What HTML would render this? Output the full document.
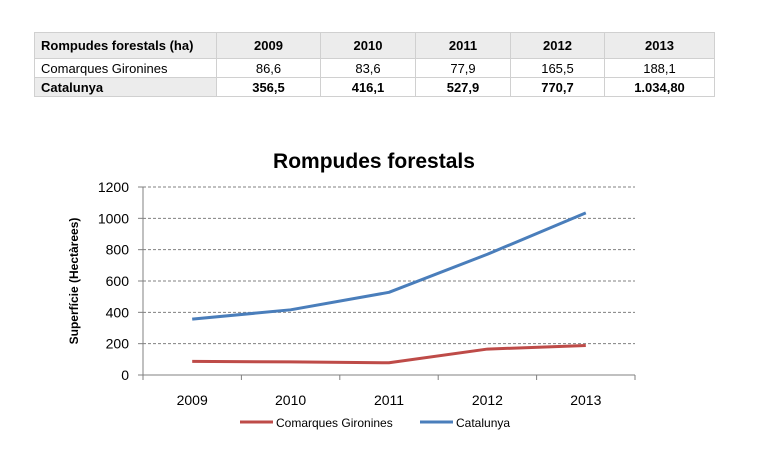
<!DOCTYPE html>
<html><head><meta charset="utf-8">
<style>
body{margin:0;background:#fff;width:771px;height:467px;overflow:hidden;font-family:"Liberation Sans",Arial,sans-serif;}
table{position:absolute;left:34px;top:32px;border-collapse:collapse;font-size:13px;}
td{border:1px solid #d0d0d0;padding:0;text-align:center;color:#000;}
tr.h td{height:25px;font-weight:bold;background:#ececec;}
tr.r td{height:18px;}
tr.b td{font-weight:bold;}
td.f{text-align:left;padding-left:6px;background:#ececec;}
</style></head><body>
<table>
<tr class="h"><td class="f" style="width:175px">Rompudes forestals (ha)</td><td style="width:103px">2009</td><td style="width:94px">2010</td><td style="width:94px">2011</td><td style="width:93px">2012</td><td style="width:109px">2013</td></tr>
<tr class="r"><td class="f" style="background:#fff">Comarques Gironines</td><td>86,6</td><td>83,6</td><td>77,9</td><td>165,5</td><td>188,1</td></tr>
<tr class="r b"><td class="f">Catalunya</td><td>356,5</td><td>416,1</td><td>527,9</td><td>770,7</td><td>1.034,80</td></tr>
</table>
<svg id="chart" width="771" height="467" style="position:absolute;left:0;top:0"></svg>
<script>
const categories=["2009","2010","2011","2012","2013"];
const gironines=[86.6,83.6,77.9,165.5,188.1];
const catalunya=[356.5,416.1,527.9,770.7,1034.8];
const yTicks=[0,200,400,600,800,1000,1200];
const NS="http://www.w3.org/2000/svg";
const svg=document.getElementById('chart');
const X0=143,X1=635,Y0=375,Y1=187,YMAX=1200;
const bw=(X1-X0)/categories.length;
const xs=i=>X0+bw*(i+0.5);
const ys=v=>Y0-(v/YMAX)*(Y0-Y1);
function mk(tag,attrs,txt){const e=document.createElementNS(NS,tag);for(const k in attrs)e.setAttribute(k,attrs[k]);if(txt!==undefined)e.textContent=txt;svg.appendChild(e);return e;}
let t=mk('text',{x:374,y:168,'font-size':21,'font-weight':'bold','text-anchor':'middle'},'Rompudes forestals');


t=mk('text',{transform:'translate(78,281) rotate(-90)','font-size':12,'font-weight':'bold','text-anchor':'middle'},'Superfície (Hectàrees)');


yTicks.forEach(v=>{
  const y=ys(v);
  if(v>0){const g=mk('line',{x1:X0,x2:X1,y1:y,y2:y,stroke:'#808080','stroke-dasharray':'3,2','stroke-width':1});
  
  }
  const tk=mk('line',{x1:X0-5,x2:X0,y1:y,y2:y,stroke:'#808080'});
  
  
  const l=mk('text',{x:X0-14,y:y+5,'font-size':14,'text-anchor':'end'},String(v));
  
  
});
let a=mk('line',{x1:X0,x2:X0,y1:Y1,y2:Y0,stroke:'#808080'});


a=mk('line',{x1:X0,x2:X1,y1:Y0,y2:Y0,stroke:'#808080'});


for(let i=0;i<=categories.length;i++){
  const x=X0+bw*i;
  const tk=mk('line',{x1:x,x2:x,y1:Y0,y2:Y0+5,stroke:'#808080'});
  
  
}
categories.forEach((c,i)=>{
  const l=mk('text',{x:xs(i),y:Y0+30,'font-size':14,'text-anchor':'middle'},c);
  
  
});
function series(vals,color,name){
  const p=mk('polyline',{points:vals.map((v,i)=>xs(i)+','+ys(v)).join(' '),fill:'none',stroke:color,'stroke-width':3,'stroke-linejoin':'round'});
  
  
}
series(gironines,'#be4b48','series-comarques-gironines');
series(catalunya,'#4a7ebb','series-catalunya');
let lg=mk('line',{x1:240,x2:273,y1:422,y2:422,stroke:'#be4b48','stroke-width':3});


lg=mk('text',{x:276,y:427,'font-size':12},'Comarques Gironines');


lg=mk('line',{x1:420,x2:453,y1:422,y2:422,stroke:'#4a7ebb','stroke-width':3});


lg=mk('text',{x:456,y:427,'font-size':12},'Catalunya');


</script>
</body></html>
